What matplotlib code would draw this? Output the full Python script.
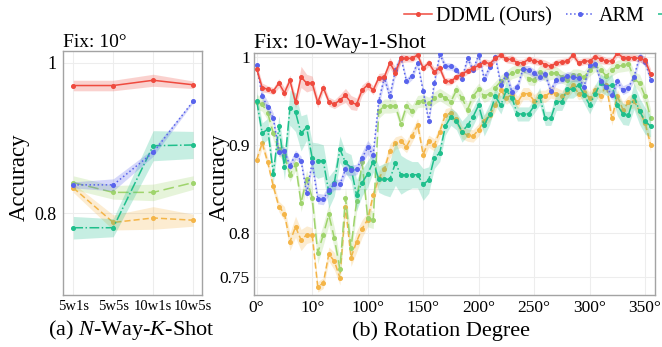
import numpy as np
import matplotlib
matplotlib.use("Agg")
import matplotlib.pyplot as plt

plt.rcParams["font.family"] = ["Liberation Serif", "DejaVu Serif"]
plt.rcParams["mathtext.fontset"] = "custom"
plt.rcParams["mathtext.rm"] = "Liberation Serif"
plt.rcParams["mathtext.it"] = "Liberation Serif:italic"

# ---- (a) N-way-K-shot, fixed 10 degrees ----
nk_labels = ["5w1s", "5w5s", "10w1s", "10w5s"]
ddml_nk = [0.970, 0.970, 0.977, 0.971]
ddml_nk_band = [0.007, 0.007, 0.008, 0.005]
arm_nk = [0.838, 0.838, 0.881, 0.949]
arm_nk_band = [0.004, 0.008, 0.005, 0.002]
teal_nk = [0.781, 0.781, 0.890, 0.891]
teal_nk_band = [0.015, 0.012, 0.020, 0.018]
lgreen_nk = [0.841, 0.828, 0.828, 0.841]
lgreen_nk_band = [0.009, 0.009, 0.011, 0.009]
orange_nk = [0.834, 0.788, 0.794, 0.791]
orange_nk_band = [0.006, 0.010, 0.015, 0.008]

# ---- (b) rotation degree, 10-way-1-shot ----
angles = list(range(0, 360, 5))
rot_ticks = [0, 50, 100, 150, 200, 250, 300, 350]
rot_ticklabels = ["0°", "10°", "100°", "150°", "200°", "250°", "300°", "350°"]

ddml = [0.986, 0.965, 0.963, 0.961, 0.970, 0.959, 0.973, 0.948, 0.977, 0.970, 0.970, 0.948, 0.965,
        0.949, 0.946, 0.951, 0.956, 0.948, 0.946, 0.962, 0.968, 0.962, 0.976, 0.977, 0.993,
        0.982, 0.998, 0.998, 0.998, 1.002, 0.987, 0.993, 0.983, 0.987, 0.972, 0.972, 0.977,
        0.980, 0.984, 0.987, 0.990, 0.994, 0.992, 0.998, 1.002, 0.997, 0.997, 0.993, 0.993,
        0.997, 0.995, 0.994, 0.991, 0.989, 0.993, 0.994, 0.995, 1.002, 0.993, 0.995,
        0.995, 1.000, 0.997, 0.995, 0.995, 1.004, 0.999, 0.999, 0.999, 0.998, 0.996, 0.980]
ddml_band = [0.006, 0.005, 0.004, 0.004, 0.005, 0.006, 0.006, 0.006, 0.012, 0.010, 0.008, 0.006, 0.005,
             0.005, 0.005, 0.006, 0.008, 0.008, 0.007, 0.006, 0.005, 0.005, 0.005, 0.005, 0.006,
             0.006, 0.005, 0.004, 0.004, 0.004, 0.004, 0.004, 0.005, 0.005, 0.004, 0.004, 0.004,
             0.004, 0.004, 0.004, 0.004, 0.004, 0.004, 0.004, 0.004, 0.004, 0.005, 0.004, 0.004,
             0.004, 0.004, 0.004, 0.005, 0.004, 0.004, 0.004, 0.004, 0.004, 0.004, 0.004,
             0.004, 0.004, 0.005, 0.004, 0.004, 0.004, 0.004, 0.004, 0.004, 0.004, 0.005, 0.006]

arm = [0.990, 0.955, 0.943, 0.930, 0.892, 0.893, 0.876, 0.889, 0.882, 0.845, 0.880, 0.839, 0.838,
       0.849, 0.855, 0.855, 0.872, 0.871, 0.872, 0.885, 0.897, 0.889, 0.950, 0.976, 0.955,
       0.985, 0.999, 0.972, 0.978, 0.993, 0.961, 0.927, 0.970, 1.003, 0.989, 0.989, 0.985,
       0.975, 0.998, 0.985, 1.002, 0.975, 0.988, 1.000, 0.968, 0.980, 0.960, 0.966, 0.986,
       0.985, 0.981, 0.977, 0.980, 0.961, 0.974, 0.975, 0.978, 0.977, 0.976, 0.966,
       0.991, 0.992, 0.972, 0.966, 0.956, 0.972, 0.962, 0.965, 0.977, 1.000, 0.994, 0.974]
arm_band = [0.004, 0.006, 0.006, 0.006, 0.005, 0.005, 0.005, 0.005, 0.005, 0.006, 0.006, 0.006, 0.006,
            0.006, 0.006, 0.006, 0.006, 0.006, 0.006, 0.007, 0.008, 0.008, 0.006, 0.006, 0.006,
            0.006, 0.004, 0.004, 0.004, 0.004, 0.004, 0.005, 0.005, 0.004, 0.004, 0.004, 0.004,
            0.004, 0.004, 0.004, 0.004, 0.005, 0.004, 0.004, 0.005, 0.005, 0.005, 0.005, 0.004,
            0.005, 0.005, 0.005, 0.005, 0.005, 0.005, 0.005, 0.005, 0.005, 0.005, 0.005,
            0.005, 0.005, 0.005, 0.005, 0.005, 0.005, 0.005, 0.005, 0.005, 0.005, 0.005, 0.005]

teal = [0.950, 0.913, 0.918, 0.867, 0.921, 0.875, 0.942, 0.937, 0.913, 0.920, 0.885, 0.882, 0.882,
        0.846, 0.857, 0.895, 0.880, 0.874, 0.843, 0.857, 0.867, 0.881, 0.861, 0.861, 0.861,
        0.879, 0.866, 0.866, 0.866, 0.866, 0.855, 0.860, 0.885, 0.891, 0.921, 0.932, 0.927,
        0.915, 0.922, 0.932, 0.945, 0.922, 0.935, 0.955, 0.945, 0.962, 0.953, 0.935, 0.935,
        0.935, 0.944, 0.955, 0.930, 0.930, 0.949, 0.949, 0.963, 0.963, 0.968, 0.957,
        0.945, 0.958, 0.970, 0.966, 0.968, 0.945, 0.935, 0.934, 0.955, 0.938, 0.927, 0.921]
teal_band = [0.010, 0.012, 0.012, 0.010, 0.012, 0.015, 0.020, 0.022, 0.020, 0.015, 0.018, 0.020, 0.018,
             0.018, 0.015, 0.015, 0.012, 0.015, 0.018, 0.015, 0.015, 0.012, 0.015, 0.018, 0.020,
             0.025, 0.022, 0.018, 0.015, 0.015, 0.018, 0.015, 0.012, 0.010, 0.010, 0.010, 0.010,
             0.012, 0.012, 0.010, 0.010, 0.012, 0.012, 0.010, 0.010, 0.010, 0.010, 0.008, 0.008,
             0.008, 0.008, 0.010, 0.008, 0.008, 0.010, 0.010, 0.010, 0.010, 0.010, 0.010,
             0.010, 0.010, 0.010, 0.010, 0.012, 0.012, 0.012, 0.012, 0.015, 0.015, 0.015, 0.012]

lgreen = [0.949, 0.946, 0.936, 0.913, 0.895, 0.889, 0.866, 0.878, 0.834, 0.861, 0.840, 0.777, 0.798,
          0.821, 0.794, 0.759, 0.840, 0.783, 0.836, 0.880, 0.817, 0.815, 0.938, 0.944, 0.944,
          0.944, 0.924, 0.944, 0.938, 0.949, 0.950, 0.947, 0.953, 0.957, 0.953, 0.949, 0.962,
          0.953, 0.940, 0.955, 0.963, 0.955, 0.958, 0.965, 0.972, 0.977, 0.982, 0.984, 0.986,
          0.975, 0.974, 0.983, 0.979, 0.981, 0.982, 0.977, 0.974, 0.979, 0.979, 0.977,
          0.985, 0.990, 0.985, 0.978, 0.985, 0.989, 0.990, 0.992, 0.975, 0.970, 0.955, 0.930]
lgreen_band = [0.008, 0.008, 0.008, 0.008, 0.008, 0.008, 0.008, 0.008, 0.010, 0.010, 0.012, 0.012, 0.012,
               0.012, 0.012, 0.012, 0.012, 0.012, 0.012, 0.010, 0.010, 0.010, 0.008, 0.008, 0.008,
               0.007, 0.007, 0.007, 0.007, 0.007, 0.007, 0.007, 0.007, 0.007, 0.007, 0.007, 0.007,
               0.007, 0.007, 0.007, 0.007, 0.007, 0.007, 0.007, 0.007, 0.007, 0.007, 0.007, 0.007,
               0.007, 0.007, 0.007, 0.007, 0.007, 0.007, 0.007, 0.007, 0.007, 0.007, 0.007,
               0.007, 0.007, 0.007, 0.007, 0.007, 0.007, 0.007, 0.008, 0.008, 0.010, 0.010, 0.010]

orange = [0.883, 0.902, 0.880, 0.853, 0.830, 0.822, 0.790, 0.807, 0.792, 0.798, 0.798, 0.739, 0.743,
          0.776, 0.768, 0.749, 0.830, 0.772, 0.790, 0.805, 0.815, 0.843, 0.862, 0.872, 0.893,
          0.902, 0.904, 0.898, 0.910, 0.923, 0.889, 0.904, 0.900, 0.915, 0.934, 0.936, 0.929,
          0.914, 0.911, 0.910, 0.917, 0.927, 0.934, 0.945, 0.962, 0.953, 0.957, 0.948, 0.958,
          0.958, 0.950, 0.955, 0.955, 0.960, 0.958, 0.955, 0.960, 0.968, 0.958, 0.960,
          0.953, 0.962, 0.955, 0.968, 0.930, 0.955, 0.940, 0.948, 0.950, 0.938, 0.925, 0.900]
orange_band = [0.006, 0.006, 0.006, 0.006, 0.006, 0.008, 0.010, 0.012, 0.012, 0.010, 0.008, 0.006, 0.006,
               0.008, 0.010, 0.008, 0.008, 0.010, 0.012, 0.010, 0.008, 0.008, 0.008, 0.008, 0.008,
               0.007, 0.007, 0.007, 0.007, 0.007, 0.007, 0.007, 0.007, 0.007, 0.007, 0.007, 0.007,
               0.007, 0.007, 0.007, 0.007, 0.007, 0.007, 0.007, 0.007, 0.007, 0.007, 0.007, 0.007,
               0.007, 0.007, 0.007, 0.007, 0.007, 0.007, 0.007, 0.007, 0.007, 0.007, 0.007,
               0.007, 0.007, 0.007, 0.007, 0.008, 0.008, 0.008, 0.008, 0.008, 0.008, 0.008, 0.008]

for arr in (ddml, ddml_band, arm, arm_band, teal, teal_band, lgreen, lgreen_band, orange, orange_band):
    assert len(arr) == len(angles)

RED, BLUE, TEAL, LGREEN, ORANGE = "#ef4a3e", "#5863ec", "#1fbf8c", "#9fd46c", "#f4b548"
GRID, SPINE = "#ededed", "#a3a3a3"


def draw(ax, x, y, band, color, ls, z):
    y = np.asarray(y)
    band = np.asarray(band)
    ax.fill_between(x, y - band, y + band, color=color, alpha=0.25, lw=0, zorder=z)
    line, = ax.plot(x, y, color=color, ls=ls, lw=1.1, marker="o", ms=2.6, zorder=z + 1)
    return line


def style(ax):
    ax.grid(True, color=GRID, lw=0.8, zorder=0)
    ax.set_axisbelow(True)
    for sp in ax.spines.values():
        sp.set_color(SPINE)
        sp.set_linewidth(1.0)
    ax.tick_params(length=0)


W, H = 662, 347
fig = plt.figure(figsize=(W / 100, H / 100), dpi=100)
ax1 = fig.add_axes([63.3 / W, 1 - 294.7 / H, 139 / W, 243.4 / H])
ax2 = fig.add_axes([254 / W, 1 - 295 / H, 401 / W, 242.3 / H])

styles = [
    (ORANGE, (0, (4, 2)), 2),
    (LGREEN, (0, (7, 3)), 4),
    (TEAL, "-.", 6),
    (BLUE, ":", 8),
    (RED, "-", 10),
]

# left panel
xs = np.arange(len(nk_labels))
left_series = [(orange_nk, orange_nk_band), (lgreen_nk, lgreen_nk_band), (teal_nk, teal_nk_band),
               (arm_nk, arm_nk_band), (ddml_nk, ddml_nk_band)]
for (y, b), (c, ls, z) in zip(left_series, styles):
    draw(ax1, xs, y, b, c, ls, z)
style(ax1)
ax1.set_xlim(-0.25, 3.23)
ax1.set_ylim(0.692, 1.0155)
ax1.set_xticks(xs)
ax1.set_xticklabels(nk_labels, fontsize=10.5)
ax1.set_yticks([0.8, 1.0])
ax1.set_yticklabels(["0.8", "1"], fontsize=13)
ax1.tick_params(axis="x", pad=3.5)
ax1.tick_params(axis="y", pad=5)
ax1.set_title("Fix: 10°", loc="left", fontsize=14, pad=1.5)
ax1.set_ylabel("Accuracy", fontsize=16.5, va="center")
ax1.yaxis.set_label_coords(-0.315, 0.484)
ax1.set_xlabel("(a) $N$-Way-$K$-Shot", fontsize=16, va="center")
ax1.xaxis.set_label_coords(0.487, -0.145)

# right panel
right_series = [(orange, orange_band), (lgreen, lgreen_band), (teal, teal_band),
                (arm, arm_band), (ddml, ddml_band)]
lines = []
for (y, b), (c, ls, z) in zip(right_series, styles):
    lines.append(draw(ax2, angles, y, b, c, ls, z))
style(ax2)
ax2.set_xlim(-2.4, 358.9)
ax2.set_ylim(0.7296, 1.0045)
ax2.set_xticks(rot_ticks)
ax2.set_xticklabels(rot_ticklabels, fontsize=12.5)
ax2.set_yticks([0.75, 0.8, 0.85, 0.9, 0.95, 1.0])
ax2.set_yticklabels(["0.75", "0.8", "", "0.9", "", "1"], fontsize=12.5)
ax2.tick_params(axis="x", pad=3.3)
ax2.tick_params(axis="y", pad=2.9)
ax2.set_title("Fix: 10-Way-1-Shot", loc="left", fontsize=15.5, pad=3)
ax2.set_ylabel("Accuracy", fontsize=16.5, va="center")
ax2.yaxis.set_label_coords(-0.087, 0.487)
ax2.set_xlabel("(b) Rotation Degree", fontsize=16, va="center")
ax2.xaxis.set_label_coords(0.466, -0.151)

fig.legend([lines[4], lines[3], lines[2]], ["DDML (Ours)", "ARM", ""],
           loc="upper left", bbox_to_anchor=(404 / W, 1 - 7 / H), ncol=3, frameon=False,
           fontsize=14.5, handlelength=1.4, handletextpad=0.2, columnspacing=0.7,
           borderpad=0, borderaxespad=0)

fig.savefig("out.png", dpi=100)
